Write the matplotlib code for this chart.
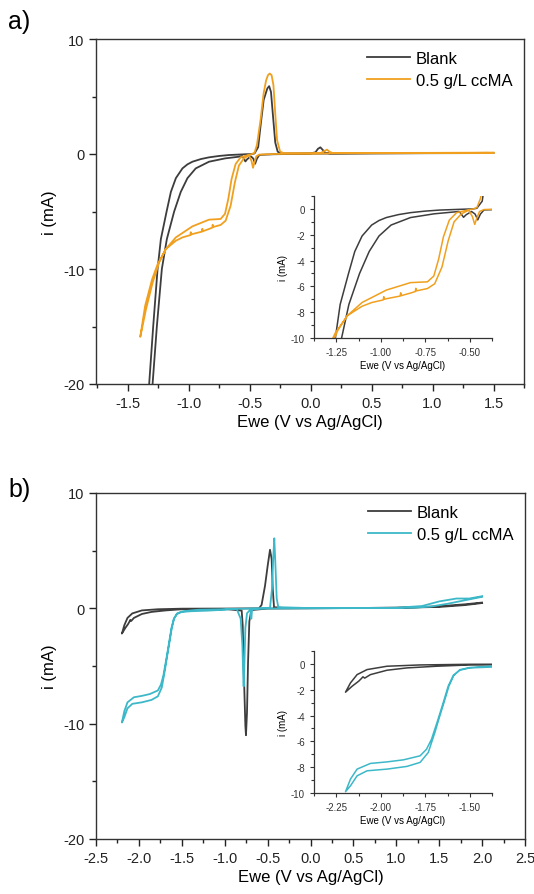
import matplotlib
matplotlib.use("Agg")
import matplotlib.pyplot as plt
from matplotlib.ticker import MultipleLocator

plt.rcParams['font.family'] = ['Liberation Sans', 'DejaVu Sans']
plt.rcParams['axes.unicode_minus'] = False

# ---------------- data: panel a ----------------
a_blank_E = [1.50, 1.00, 0.50, 0.00, -0.30, -0.42, -0.44, -0.455, -0.47, -0.49, -0.52, -0.535, -0.55,
             -0.56, -0.70, -0.833, -0.942, -1.010, -1.065, -1.119, -1.179, -1.220, -1.261, -1.296, -1.31, -1.33,
             -1.335, -1.324, -1.291, -1.255, -1.228, -1.181, -1.146, -1.105, -1.051, -1.01, -0.969, -0.90, -0.833,
             -0.75, -0.67, -0.55, -0.48, -0.46, -0.43, -0.41, -0.385, -0.355, -0.34, -0.325, -0.31, -0.29,
             -0.27, -0.24, 0.00, 0.04, 0.06, 0.08, 0.10, 0.12, 0.16, 0.50, 1.00, 1.45]
a_blank_i = [0.08, 0.07, 0.06, 0.03, -0.02, -0.08, -0.40, -0.85, -0.40, -0.20, -0.45, -0.65, -0.35,
             -0.20, -0.38, -0.67, -1.25, -2.10, -3.30, -5.00, -7.40, -10.0, -15.0, -20.0, -22.0, -23.5,
             -23.5, -20.0, -15.0, -10.0, -7.40, -5.00, -3.30, -2.10, -1.25, -0.90, -0.67, -0.44, -0.29,
             -0.17, -0.09, -0.03, 0.00, 0.05, 0.60, 2.50, 4.70, 5.70, 5.90, 5.40, 3.50, 1.00,
             0.20, 0.05, 0.05, 0.15, 0.45, 0.58, 0.35, 0.10, 0.05, 0.06, 0.08, 0.10]

a_cc_E = [1.50, 1.00, 0.50, 0.20, 0.00, -0.30, -0.42, -0.445, -0.46, -0.472, -0.485, -0.506, -0.547,
          -0.588, -0.621, -0.656, -0.697, -0.738, -0.80, -0.803, -0.806, -0.833, -0.885, -0.888, -0.891,
          -0.969, -0.98, -0.983, -0.986, -1.05, -1.105, -1.187, -1.241, -1.296, -1.35, -1.397,
          -1.357, -1.300, -1.255, -1.187, -1.105, -0.969, -0.833, -0.738, -0.702, -0.675, -0.648, -0.615,
          -0.574, -0.506, -0.48, -0.46, -0.44, -0.41, -0.385, -0.365, -0.35, -0.335, -0.32, -0.305, -0.29,
          -0.275, -0.25, -0.22, 0.00, 0.08, 0.11, 0.134, 0.155, 0.18, 0.50, 1.00, 1.50]
a_cc_i = [0.10, 0.08, 0.07, 0.06, 0.03, 0.00, -0.05, -0.20, -0.70, -1.20, -0.60, -0.10, -0.38,
          -1.00, -2.46, -4.50, -5.80, -6.17, -6.35, -6.15, -6.40, -6.52, -6.72, -6.50, -6.75,
          -6.96, -7.00, -6.80, -7.05, -7.25, -7.54, -8.26, -9.40, -11.2, -13.5, -15.9,
          -13.2, -10.9, -9.60, -8.26, -7.25, -6.29, -5.71, -5.65, -5.20, -3.90, -2.17, -0.87,
          -0.29, -0.07, 0.00, 0.10, 0.80, 3.00, 5.30, 6.40, 6.85, 7.00, 6.85, 6.00, 3.50,
          1.20, 0.20, 0.08, 0.06, 0.07, 0.25, 0.38, 0.20, 0.08, 0.09, 0.10, 0.12]

# ---------------- data: panel b ----------------
b_blank_E = [2.00, 1.80, 1.50, 1.20, 1.00, 0.50, 0.00, -0.50, -0.69, -0.713, -0.728, -0.740, -0.752,
             -0.759, -0.775, -0.79, -0.802, -1.00, -1.50, -1.686, -1.853, -1.965, -2.058, -2.09, -2.10,
             -2.11, -2.124, -2.16, -2.198,
             -2.17, -2.133, -2.077, -1.965, -1.779, -1.50, -1.00, -0.60, -0.57, -0.53, -0.499, -0.472,
             -0.453, -0.44, -0.425, -0.30, 0.50, 1.00, 1.50, 1.80, 2.00]
b_blank_i = [0.50, 0.35, 0.18, 0.08, 0.05, 0.03, 0.00, -0.02, -0.15, -1.15, -4.70, -9.00, -11.0,
             -10.2, -6.10, -1.50, -0.20, -0.05, -0.08, -0.18, -0.31, -0.49, -0.83, -1.10, -1.00,
             -1.15, -1.34, -1.72, -2.19,
             -1.47, -0.83, -0.44, -0.18, -0.08, -0.03, -0.02, 0.00, 0.30, 1.96, 3.70, 5.08,
             4.28, 1.67, 0.10, 0.02, 0.03, 0.05, 0.12, 0.28, 0.46]

b_cc_E = [2.00, 1.80, 1.60, 1.40, 1.20, 0.50, 0.00, -0.50, -0.68, -0.69, -0.70, -0.74, -0.759, -0.771,
          -0.779, -0.783, -0.794, -0.814, -0.86, -1.00, -1.30, -1.39, -1.50, -1.556, -1.590, -1.617,
          -1.645, -1.674, -1.696, -1.733, -1.779, -1.853, -1.965, -2.077, -2.133, -2.170, -2.198,
          -2.170, -2.133, -2.058, -1.965, -1.872, -1.779, -1.743, -1.715, -1.678, -1.649, -1.621, -1.593,
          -1.556, -1.50, -1.39, -1.20, -1.00, -0.90, -0.60, -0.472, -0.449, -0.433, -0.422, -0.410,
          -0.394, -0.375, 0.00, 0.50, 1.00, 1.30, 1.50, 1.70, 1.85, 2.00]
b_cc_i = [1.00, 0.70, 0.40, 0.15, 0.05, 0.02, 0.00, -0.02, -0.05, -0.90, -0.10, -0.43, -1.70, -5.00,
          -6.77, -6.10, -3.20, -0.90, -0.05, -0.08, -0.12, -0.18, -0.28, -0.45, -0.90, -1.72,
          -3.00, -4.29, -5.32, -6.86, -7.63, -7.94, -8.15, -8.28, -8.67, -9.44, -9.90,
          -8.92, -8.15, -7.71, -7.59, -7.43, -7.12, -6.61, -5.84, -4.29, -3.00, -1.72, -0.90,
          -0.49, -0.31, -0.25, -0.20, -0.12, -0.05, 0.00, 0.05, 1.67, 4.56, 6.07, 3.99,
          0.85, 0.10, 0.02, 0.03, 0.05, 0.20, 0.60, 0.85, 0.85, 1.05]

legend_labels = ["Blank", "0.5 g/L ccMA"]
GRAY = "#3d3d3d"
ORANGE = "#F0A01E"
CYAN = "#3DB8C8"

fig = plt.figure(figsize=(5.34, 8.95), dpi=100)


def style_main(ax, xlim, xmaj, xmin):
    ax.set_xlim(*xlim)
    ax.set_ylim(-20, 10)
    ax.xaxis.set_major_locator(MultipleLocator(xmaj))
    ax.xaxis.set_minor_locator(MultipleLocator(xmin))
    ax.yaxis.set_major_locator(MultipleLocator(10))
    ax.yaxis.set_minor_locator(MultipleLocator(5))
    ax.tick_params(which='both', direction='out', top=False, right=False, labelsize=10.5, colors='#222222')
    ax.tick_params(which='major', length=5, width=1)
    ax.tick_params(which='minor', length=3, width=1)
    for s in ax.spines.values():
        s.set_linewidth(1.0)
        s.set_color('#333333')
    ax.set_xlabel("Ewe (V vs Ag/AgCl)", fontsize=12, labelpad=3)
    ax.set_ylabel("i (mA)", fontsize=12, labelpad=4)
    ax.legend(loc='upper right', bbox_to_anchor=(1.0, 1.0), frameon=False, fontsize=12,
              handlelength=2.6, handletextpad=0.35, labelspacing=0.45, borderaxespad=0.3)


def style_inset(ax, xlim, xmaj, xmin):
    ax.set_xlim(*xlim)
    ax.set_ylim(-10, 1)
    ax.xaxis.set_major_locator(MultipleLocator(xmaj))
    ax.xaxis.set_minor_locator(MultipleLocator(xmin))
    ax.yaxis.set_major_locator(MultipleLocator(2))
    ax.yaxis.set_minor_locator(MultipleLocator(1))
    ax.spines['top'].set_visible(False)
    ax.spines['right'].set_visible(False)
    for s in ['left', 'bottom']:
        ax.spines[s].set_linewidth(0.9)
        ax.spines[s].set_color('#333333')
    ax.tick_params(which='both', direction='out', labelsize=7, colors='#333333')
    ax.tick_params(which='major', length=3, width=0.8)
    ax.tick_params(which='minor', length=2, width=0.8)
    ax.set_xlabel("Ewe (V vs Ag/AgCl)", fontsize=7, labelpad=2)
    ax.set_ylabel("i (mA)", fontsize=7, labelpad=2)
    ax.patch.set_alpha(0)


# ---- panel a ----
axa = fig.add_axes([96/534, 1-385/895, 428/534, 345/895])
axa.plot(a_blank_E, a_blank_i, color=GRAY, lw=1.3, label=legend_labels[0])
axa.plot(a_cc_E, a_cc_i, color=ORANGE, lw=1.3, label=legend_labels[1])
style_main(axa, (-1.76, 1.75), 0.5, 0.25)
fig.text(8/534, 1-22/895, "a)", fontsize=18, va='center', ha='left')

insa = fig.add_axes([314/534, 1-339/895, 178/534, 142/895])
insa.plot(a_blank_E, a_blank_i, color=GRAY, lw=1.1)
insa.plot(a_cc_E, a_cc_i, color=ORANGE, lw=1.1)
style_inset(insa, (-1.375, -0.375), 0.25, 0.125)

# ---- panel b ----
axb = fig.add_axes([96/534, 1-840/895, 429/534, 346/895])
axb.plot(b_blank_E, b_blank_i, color=GRAY, lw=1.3, label=legend_labels[0])
axb.plot(b_cc_E, b_cc_i, color=CYAN, lw=1.3, label=legend_labels[1])
style_main(axb, (-2.5, 2.5), 0.5, 0.25)
fig.text(8/534, 1-490/895, "b)", fontsize=18, va='center', ha='left')

insb = fig.add_axes([314/534, 1-794/895, 178/534, 142/895])
insb.plot(b_blank_E, b_blank_i, color=GRAY, lw=1.1)
insb.plot(b_cc_E, b_cc_i, color=CYAN, lw=1.1)
style_inset(insb, (-2.375, -1.375), 0.25, 0.125)

fig.savefig("out.png", dpi=100)
